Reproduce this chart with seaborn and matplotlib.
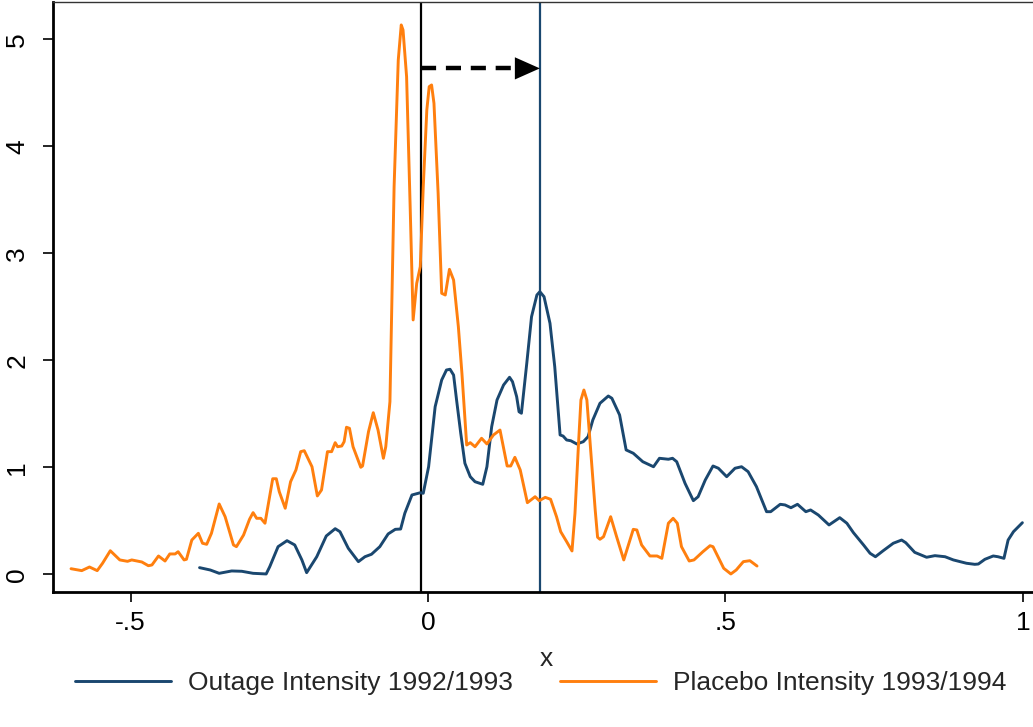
import matplotlib
matplotlib.use("Agg")
import matplotlib.pyplot as plt
import pandas as pd
import seaborn as sns

# kernel density of outage intensity
outage_x = [
    -0.384, -0.366, -0.351, -0.330, -0.313, -0.294, -0.272, -0.266, -0.252, -0.237,
    -0.224, -0.212, -0.204, -0.187, -0.171, -0.156, -0.148, -0.134, -0.117, -0.106,
    -0.095, -0.081, -0.067, -0.055, -0.046, -0.039, -0.027, -0.013, -0.008, 0.001,
    0.012, 0.023, 0.031, 0.037, 0.043, 0.048, 0.055, 0.062, 0.071, 0.079,
    0.092, 0.099, 0.107, 0.116, 0.127, 0.137, 0.142, 0.149, 0.153, 0.157,
    0.166, 0.174, 0.183, 0.188, 0.195, 0.205, 0.213, 0.222, 0.227, 0.233,
    0.240, 0.250, 0.261, 0.269, 0.277, 0.289, 0.303, 0.309, 0.322, 0.333,
    0.345, 0.361, 0.379, 0.389, 0.404, 0.411, 0.418, 0.432, 0.446, 0.454,
    0.466, 0.479, 0.488, 0.502, 0.516, 0.527, 0.538, 0.552, 0.569, 0.576,
    0.592, 0.600, 0.610, 0.621, 0.635, 0.643, 0.656, 0.674, 0.692, 0.704,
    0.715, 0.732, 0.743, 0.752, 0.765, 0.782, 0.796, 0.803, 0.818, 0.838,
    0.852, 0.869, 0.883, 0.905, 0.919, 0.925, 0.936, 0.950, 0.958, 0.968,
    0.975, 0.984, 0.999,
]
outage_y = [
    0.064, 0.042, 0.011, 0.033, 0.030, 0.011, 0.005, 0.073, 0.260, 0.316,
    0.276, 0.136, 0.017, 0.166, 0.360, 0.428, 0.400, 0.245, 0.120, 0.166,
    0.189, 0.260, 0.379, 0.422, 0.425, 0.572, 0.743, 0.764, 0.759, 1.007,
    1.568, 1.818, 1.911, 1.918, 1.864, 1.631, 1.320, 1.039, 0.914, 0.867,
    0.843, 1.007, 1.381, 1.631, 1.771, 1.843, 1.802, 1.662, 1.521, 1.507,
    1.974, 2.409, 2.612, 2.643, 2.596, 2.348, 1.942, 1.304, 1.294, 1.257,
    1.250, 1.220, 1.241, 1.288, 1.444, 1.600, 1.668, 1.647, 1.491, 1.164,
    1.133, 1.054, 1.007, 1.086, 1.077, 1.086, 1.054, 0.852, 0.690, 0.727,
    0.883, 1.014, 0.993, 0.914, 0.993, 1.007, 0.961, 0.821, 0.587, 0.587,
    0.656, 0.650, 0.624, 0.656, 0.587, 0.603, 0.556, 0.463, 0.531, 0.479,
    0.391, 0.276, 0.198, 0.166, 0.222, 0.292, 0.322, 0.297, 0.207, 0.161,
    0.176, 0.166, 0.136, 0.105, 0.095, 0.098, 0.142, 0.173, 0.166, 0.151,
    0.322, 0.400, 0.484,
]

# kernel density of placebo intensity
placebo_x = [
    -0.600, -0.582, -0.569, -0.556, -0.547, -0.534, -0.518, -0.505, -0.498, -0.481,
    -0.470, -0.464, -0.453, -0.442, -0.434, -0.425, -0.420, -0.410, -0.406, -0.397,
    -0.386, -0.379, -0.372, -0.364, -0.351, -0.341, -0.327, -0.322, -0.310, -0.300,
    -0.294, -0.288, -0.281, -0.274, -0.261, -0.255, -0.250, -0.240, -0.231, -0.222,
    -0.214, -0.208, -0.195, -0.186, -0.179, -0.169, -0.162, -0.156, -0.152, -0.145,
    -0.141, -0.137, -0.132, -0.126, -0.113, -0.110, -0.100, -0.092, -0.084, -0.075,
    -0.071, -0.064, -0.057, -0.050, -0.045, -0.042, -0.036, -0.030, -0.025, -0.019,
    -0.013, -0.008, -0.002, 0.002, 0.006, 0.010, 0.017, 0.023, 0.029, 0.036,
    0.043, 0.051, 0.057, 0.065, 0.071, 0.079, 0.090, 0.099, 0.110, 0.121,
    0.133, 0.139, 0.146, 0.155, 0.167, 0.180, 0.187, 0.197, 0.206, 0.216,
    0.223, 0.233, 0.242, 0.247, 0.253, 0.257, 0.262, 0.267, 0.273, 0.281,
    0.285, 0.289, 0.295, 0.307, 0.317, 0.329, 0.345, 0.351, 0.359, 0.373,
    0.385, 0.393, 0.404, 0.412, 0.419, 0.426, 0.439, 0.447, 0.462, 0.474,
    0.479, 0.497, 0.509, 0.518, 0.530, 0.541, 0.553,
]
placebo_y = [
    0.054, 0.036, 0.070, 0.036, 0.105, 0.222, 0.136, 0.123, 0.136, 0.117,
    0.082, 0.089, 0.173, 0.126, 0.192, 0.192, 0.213, 0.136, 0.142, 0.322,
    0.385, 0.292, 0.282, 0.385, 0.659, 0.540, 0.276, 0.260, 0.369, 0.516,
    0.578, 0.525, 0.525, 0.479, 0.895, 0.895, 0.774, 0.619, 0.867, 0.977,
    1.148, 1.157, 1.007, 0.734, 0.790, 1.148, 1.148, 1.232, 1.194, 1.201,
    1.241, 1.376, 1.366, 1.194, 1.002, 1.014, 1.335, 1.512, 1.350, 1.086,
    1.194, 1.615, 3.624, 4.808, 5.136, 5.089, 4.652, 3.437, 2.379, 2.721,
    2.877, 3.624, 4.341, 4.559, 4.575, 4.404, 3.563, 2.628, 2.612, 2.852,
    2.752, 2.316, 1.880, 1.210, 1.232, 1.194, 1.273, 1.220, 1.304, 1.350,
    1.014, 1.014, 1.095, 0.977, 0.671, 0.727, 0.690, 0.721, 0.703, 0.540,
    0.400, 0.307, 0.220, 0.572, 1.226, 1.631, 1.724, 1.631, 1.194, 0.603,
    0.348, 0.329, 0.353, 0.540, 0.353, 0.136, 0.422, 0.416, 0.276, 0.173,
    0.173, 0.151, 0.479, 0.525, 0.479, 0.260, 0.126, 0.136, 0.213, 0.269,
    0.260, 0.058, 0.005, 0.042, 0.120, 0.129, 0.079,
]

labels = ["Outage Intensity 1992/1993", "Placebo Intensity 1993/1994"]
navy = "#1a476f"
orange = "#ff7f0e"

# reference lines and shift arrow
cutoff_x = -0.012
shifted_x = 0.188
arrow_y = 4.73
head_base_x = 0.146

df = pd.concat([
    pd.DataFrame({"x": outage_x, "density": outage_y, "series": labels[0]}),
    pd.DataFrame({"x": placebo_x, "density": placebo_y, "series": labels[1]}),
], ignore_index=True)

sns.set_style("white")
plt.rcParams["font.family"] = ["Liberation Sans", "DejaVu Sans"]

fig = plt.figure(figsize=(10.33, 7.27), dpi=100)
ax = fig.add_axes([53 / 1033, 0.1857, 987 / 1033, 0.8115])

ax.axvline(cutoff_x, color="black", lw=1.6, zorder=1)
ax.axvline(shifted_x, color=navy, lw=1.6, zorder=1)

sns.lineplot(data=df, x="x", y="density", hue="series", palette=[navy, orange],
             estimator=None, sort=False, lw=2.1, ax=ax)

ax.plot([cutoff_x, head_base_x], [arrow_y, arrow_y], color="black", lw=3.2,
        dashes=(3.4, 2.2), solid_capstyle="butt", dash_capstyle="butt")
ax.annotate("", xy=(shifted_x, arrow_y), xytext=(head_base_x, arrow_y),
            arrowprops=dict(arrowstyle="-|>,head_length=0.9,head_width=0.4",
                            color="black", lw=0, mutation_scale=20,
                            shrinkA=0, shrinkB=0))

ax.set_xlim(-0.6303, 1.0286)
ax.set_ylim(-0.1636, 5.35)
ax.set_xticks([-0.5, 0, 0.5, 1])
ax.set_xticklabels(["-.5", "0", ".5", "1"])
ax.set_yticks([0, 1, 2, 3, 4, 5])
ax.set_yticklabels(["0", "1", "2", "3", "4", "5"], rotation=90, va="center")
ax.tick_params(axis="both", direction="out", length=7, width=1.2, colors="black",
               labelsize=19, bottom=True, left=True)
ax.tick_params(axis="x", pad=7)
ax.tick_params(axis="y", pad=10)
ax.set_xlabel("x", fontsize=19, labelpad=8)
ax.set_ylabel("")

for side in ["left", "bottom"]:
    ax.spines[side].set_color("black")
    ax.spines[side].set_linewidth(2)
ax.spines["top"].set_color("#333333")
ax.spines["top"].set_linewidth(1)
ax.spines["right"].set_visible(False)

handles, _ = ax.get_legend_handles_labels()
ax.get_legend().remove()
fig.legend(handles, labels, loc="center", bbox_to_anchor=(541 / 1033, 1 - 683 / 727),
           ncol=2, frameon=False, fontsize=19, handlelength=3.64,
           handletextpad=0.64, columnspacing=1.78)
for h in handles:
    h.set_linewidth(2.1)

fig.savefig("out.png", dpi=100)
